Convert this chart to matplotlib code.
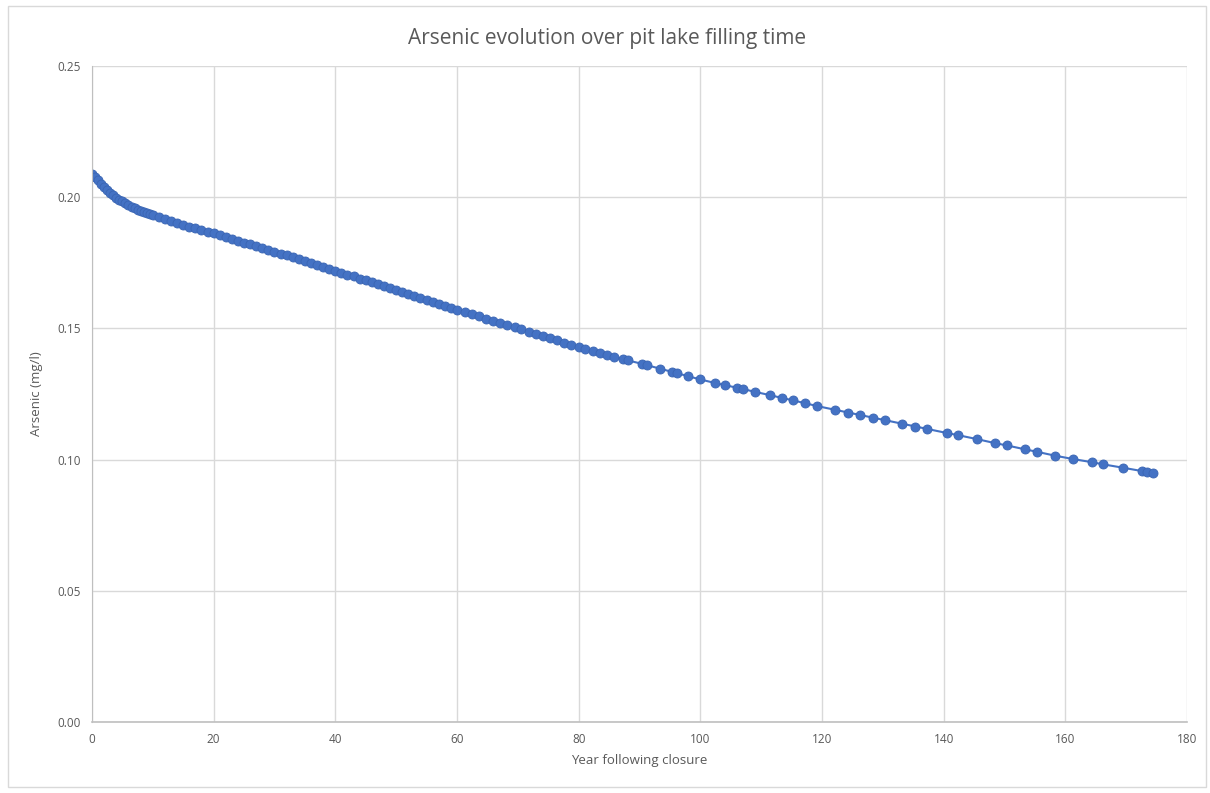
import matplotlib.pyplot as plt
from matplotlib.patches import Rectangle

# Arsenic concentration
years = [
    0, 0.5, 1, 1.5, 2, 2.5, 3, 3.5, 4, 4.5, 5, 5.5, 6, 6.5, 7, 7.5, 8, 8.5, 9, 9.5, 10,
    11, 12, 13, 14, 15, 16, 17, 18, 19, 20,
    21, 22, 23, 24, 25, 26, 27, 28, 29, 30,
    31, 32, 33, 34, 35, 36, 37, 38, 39, 40,
    41, 42, 43, 44, 45, 46, 47, 48, 49, 50,
    51, 52, 53, 54, 55, 56, 57, 58, 59, 60,
    61.3, 62.5, 63.6, 64.8, 66.0, 67.1, 68.3, 69.5, 70.6, 71.8, 73.0,
    74.1, 75.3, 76.5, 77.6, 78.8, 80.0, 81.1, 82.3, 83.5, 84.6, 85.8,
    87.3, 88.1, 90.4, 91.2, 93.4, 95.3, 96.2, 98.0, 99.9, 102.4, 104.0,
    106.0, 107.0, 109.0, 111.4, 113.4, 115.2, 117.2, 119.2, 122.1, 124.3,
    126.2, 128.4, 130.4, 133.1, 135.3, 137.3, 140.6, 142.4, 145.5, 148.4,
    150.4, 153.4, 155.3, 158.3, 161.3, 164.4, 166.2, 169.5, 172.6, 173.4, 174.4,
]
arsenic = [
    0.2088, 0.2077, 0.2065, 0.2052, 0.2040, 0.2028, 0.2016, 0.2007, 0.1998, 0.1991,
    0.1984, 0.1977, 0.1970, 0.1964, 0.1958, 0.1953, 0.1949, 0.1945, 0.1941, 0.1937, 0.1933,
    0.1926, 0.1918, 0.1910, 0.1902, 0.1895, 0.1888, 0.1881, 0.1875, 0.1868, 0.1862,
    0.1855, 0.1848, 0.1841, 0.1834, 0.1827, 0.1820, 0.1813, 0.1806, 0.1799, 0.1792,
    0.1785, 0.1778, 0.1771, 0.1764, 0.1757, 0.1750, 0.1742, 0.1735, 0.1727, 0.1720,
    0.1713, 0.1705, 0.1698, 0.1690, 0.1683, 0.1676, 0.1668, 0.1661, 0.1653, 0.1646,
    0.1639, 0.1631, 0.1624, 0.1616, 0.1609, 0.1602, 0.1594, 0.1587, 0.1579, 0.1572,
    0.1562, 0.1554, 0.1546, 0.1537, 0.1529, 0.1521, 0.1512, 0.1504, 0.1496, 0.1487, 0.1478,
    0.1471, 0.1462, 0.1454, 0.1446, 0.1437, 0.1429, 0.1422, 0.1414, 0.1406, 0.1399, 0.1392,
    0.1383, 0.1378, 0.1365, 0.1360, 0.1346, 0.1334, 0.1329, 0.1318, 0.1306, 0.1292, 0.1284,
    0.1274, 0.1269, 0.1258, 0.1246, 0.1235, 0.1226, 0.1215, 0.1204, 0.1190, 0.1179,
    0.1170, 0.1160, 0.1150, 0.1137, 0.1126, 0.1117, 0.1101, 0.1093, 0.1078, 0.1063,
    0.1054, 0.1039, 0.1030, 0.1015, 0.1002, 0.0990, 0.0982, 0.0969, 0.0956, 0.0953, 0.0949,
]
x_ticks = [0, 20, 40, 60, 80, 100, 120, 140, 160, 180]
y_ticks = [0.00, 0.05, 0.10, 0.15, 0.20, 0.25]

plt.rcParams['font.family'] = ['Open Sans', 'DejaVu Sans']
text_col = "#595959"
grid_col = "#d9d9d9"

fig = plt.figure(figsize=(12.1, 7.93), dpi=100)
ax = fig.add_axes([0.076, 0.0895, 0.905, 0.8273])

# outer chart frame
fig.patches.append(Rectangle((0.007, 0.008), 0.99, 0.985, transform=fig.transFigure,
                             fill=False, edgecolor="#d9d9d9", linewidth=1))

ax.plot(years, arsenic, color="#4472C4", linewidth=1.5, marker="o",
        markersize=6.5, markerfacecolor="#4472C4", markeredgecolor="#3a65b3",
        markeredgewidth=0.6)

ax.set_xlim(0, 180)
ax.set_ylim(0, 0.25)
ax.set_xticks(x_ticks)
ax.set_yticks(y_ticks)
ax.set_xticklabels([str(t) for t in x_ticks])
ax.set_yticklabels([f"{t:.2f}" for t in y_ticks])
ax.tick_params(length=0, labelsize=8.5, colors=text_col, pad=8)

ax.grid(True, color=grid_col, linewidth=1)
ax.set_axisbelow(True)
for s in ["top", "right"]:
    ax.spines[s].set_visible(False)
ax.spines["bottom"].set_color("#bfbfbf")
ax.spines["left"].set_color("#bfbfbf")
ax.spines["bottom"].set_linewidth(1.2)

# Excel centres the title on the whole chart area
fig.text(0.502, 0.952, "Arsenic evolution over pit lake filling time", fontsize=15,
         color=text_col, ha="center", va="center")
ax.set_xlabel("Year following closure", fontsize=9.5, color=text_col, labelpad=6)
ax.set_ylabel("Arsenic (mg/l)", fontsize=9.5, color=text_col, labelpad=10)

plt.savefig("out.png", dpi=100)
